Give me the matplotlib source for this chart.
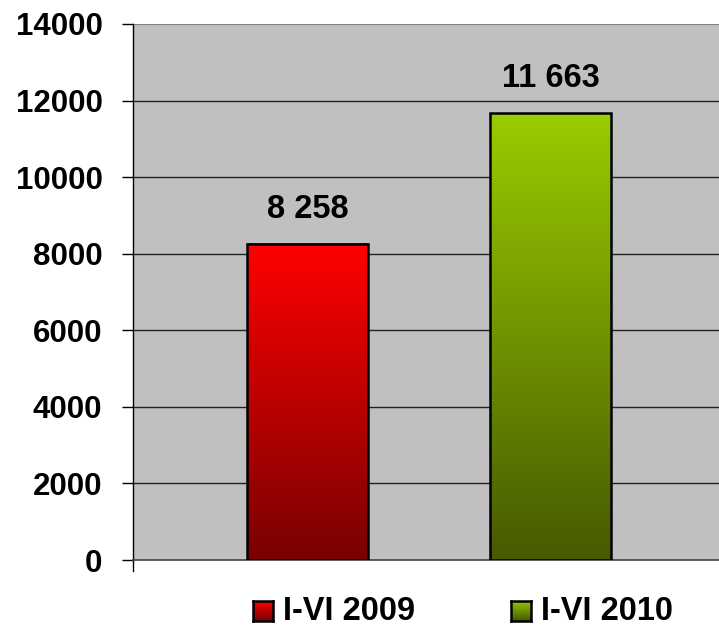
import matplotlib
matplotlib.use("Agg")
import matplotlib.pyplot as plt
import numpy as np
from matplotlib.colors import LinearSegmentedColormap
from matplotlib.lines import Line2D

series = ["I-VI 2009", "I-VI 2010"]
values = [8258, 11663]
yticks = [0, 2000, 4000, 6000, 8000, 10000, 12000, 14000]
top_colors = ["#FF0000", "#99CC00"]
bottom_colors = ["#780000", "#465A00"]

plt.rcParams['font.family'] = ['Liberation Sans', 'DejaVu Sans']
W, H = 719, 625
fig = plt.figure(figsize=(W / 100, H / 100), dpi=100)
ax = fig.add_axes([133 / W, (H - 560) / H, (W - 133) / W, (560 - 24) / H])
ax.set_facecolor("#C0C0C0")

positions = [0, 1]
width = 0.498
grad = np.linspace(0, 1, 256).reshape(-1, 1)
for x, v, tc, bc in zip(positions, values, top_colors, bottom_colors):
    cmap = LinearSegmentedColormap.from_list("g", [bc, tc])
    ax.imshow(grad, extent=[x - width / 2, x + width / 2, 0, v], origin="lower",
              aspect="auto", cmap=cmap, zorder=3, interpolation="bilinear")
    ax.bar(x, v, width=width, facecolor="none", edgecolor="black", linewidth=1.8, zorder=4)
    ax.text(x, v + 500, f"{v:,}".replace(",", " "), ha="center", va="bottom",
            fontsize=23.5, fontweight="bold", zorder=5)

ax.set_xlim(-0.718, 1.693)
ax.set_ylim(0, 14000)
ax.set_yticks(yticks)
ax.set_yticklabels([str(t) for t in yticks], fontsize=22.5, fontweight="bold")
ax.set_xticks([])
ax.tick_params(axis="y", direction="out", length=8, width=1, color="black", pad=14)
for t in yticks[1:-1]:
    ax.axhline(t, color="#222222", linewidth=1, zorder=2)
ax.axhline(14000, color="#808080", linewidth=1.5, zorder=2)
for s in ["top", "right"]:
    ax.spines[s].set_visible(False)
ax.spines["left"].set_color("black")
ax.spines["left"].set_linewidth(1)
ax.spines["bottom"].set_color("#444444")
ax.spines["bottom"].set_linewidth(1.2)
ax.add_line(Line2D([0, 0], [0, -0.02], transform=ax.transAxes, color="black",
                   linewidth=1, clip_on=False))

# legend
for i, (name, tc, bc) in enumerate(zip(series, top_colors, bottom_colors)):
    x0 = 253 + i * 258
    lax = fig.add_axes([x0 / W, (H - 621) / H, 20 / W, 20 / H])
    cmap = LinearSegmentedColormap.from_list("g", [bc, tc])
    lax.imshow(grad, origin="lower", aspect="auto", cmap=cmap, extent=[0, 1, 0, 1])
    lax.set_xticks([]); lax.set_yticks([])
    for s in lax.spines.values():
        s.set_linewidth(1.8)
    fig.text((x0 + 30) / W, (H - 611) / H, name, fontsize=23.5, fontweight="bold",
             ha="left", va="center")

fig.savefig("out.png", dpi=100)
